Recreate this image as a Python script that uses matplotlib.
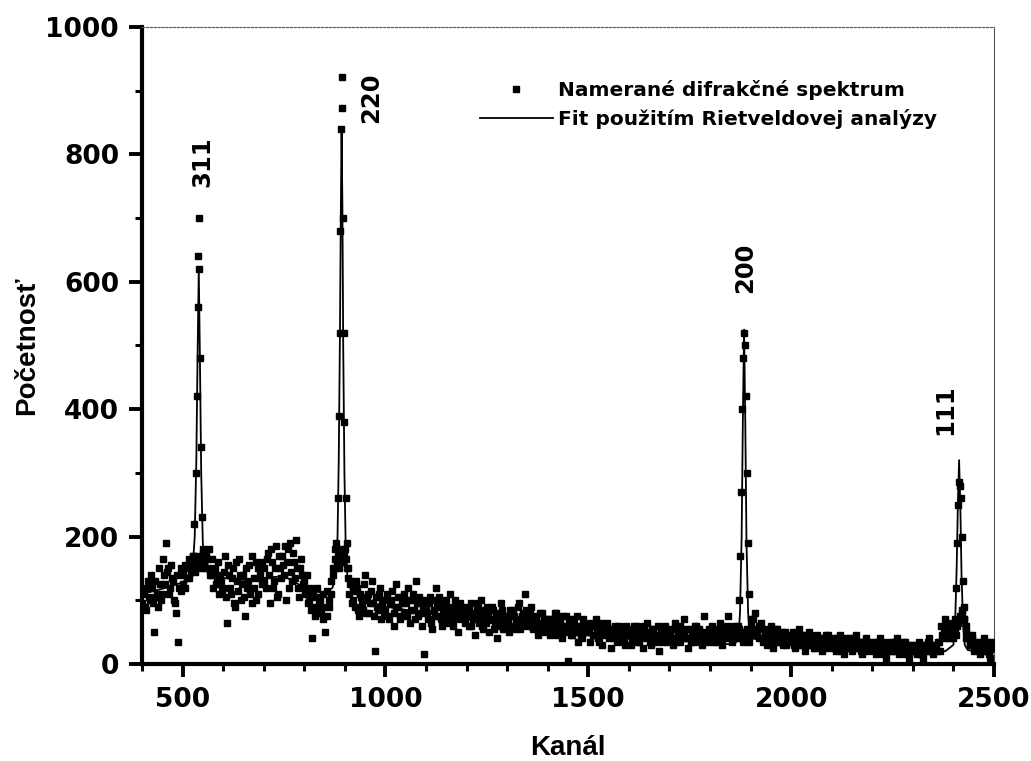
import numpy as np
import matplotlib
matplotlib.use("Agg")
import matplotlib.pyplot as plt
from matplotlib.ticker import MultipleLocator

# measured spectrum, background read every 5 channels (400 .. 2495)
bg_start = 400
bg_step = 5
bg_counts = [
    95, 110, 85, 130, 100, 120, 50, 105, 90, 125, 110, 140, 190, 150, 120, 135, 100, 80, 35, 115,      # 400
    140, 120, 150, 135, 160, 150, 145, 170, 160, 150, 175, 150, 165, 180, 140, 120, 150, 135, 110, 130,  # 500
    120, 170, 65, 140, 110, 150, 90, 130, 165, 100, 140, 75, 120, 155, 95, 135, 160, 110, 145, 125,    # 600
    150, 120, 175, 95, 160, 130, 185, 110, 150, 170, 140, 100, 180, 190, 130, 160, 195, 120, 150, 140,  # 700
    130, 110, 95, 120, 40, 90, 105, 85, 100, 70, 50, 115, 90, 130, 150, 180, 160, 150, 170, 160,      # 800
    180, 150, 110, 130, 100, 90, 120, 75, 105, 85, 140, 100, 80, 115, 95, 20, 90, 110, 70, 100,       # 900
    85, 110, 70, 100, 60, 125, 90, 75, 105, 80, 95, 120, 65, 100, 85, 130, 75, 95, 60, 15,            # 1000
    90, 70, 105, 55, 85, 120, 75, 95, 60, 80, 100, 65, 110, 85, 70, 90, 50, 95, 75, 85,               # 1100
    80, 60, 95, 70, 45, 85, 65, 100, 55, 75, 90, 50, 70, 85, 60, 40, 75, 95, 55, 70,                  # 1200
    65, 50, 75, 85, 55, 70, 95, 60, 80, 110, 75, 65, 90, 55, 70, 45, 80, 60, 50, 70,                  # 1300
    60, 45, 70, 55, 80, 50, 65, 40, 60, 75, 5, 55, 45, 70, 50, 35, 60, 40, 65, 50,                    # 1400
    50, 35, 60, 45, 70, 40, 55, 30, 50, 65, 40, 25, 55, 45, 35, 60, 40, 50, 30, 45,                   # 1500
    45, 30, 55, 40, 60, 35, 50, 25, 45, 65, 40, 30, 55, 35, 45, 20, 50, 40, 60, 35,                   # 1600
    40, 55, 30, 65, 45, 35, 50, 70, 40, 25, 55, 45, 35, 60, 40, 50, 30, 75, 45, 35,                   # 1700
    45, 60, 35, 50, 40, 65, 30, 55, 45, 75, 40, 35, 60, 50, 40, 45, 50, 45, 40, 35,                   # 1800
    60, 45, 80, 55, 40, 65, 35, 50, 30, 45, 60, 25, 40, 55, 35, 45, 30, 50, 40, 35,                   # 1900
    35, 50, 25, 40, 55, 30, 45, 20, 35, 50, 30, 40, 25, 45, 35, 20, 40, 30, 45, 25,                   # 2000
    30, 40, 20, 35, 45, 25, 15, 35, 30, 40, 20, 30, 45, 25, 35, 15, 30, 40, 20, 30,                   # 2100
    25, 35, 15, 30, 40, 20, 25, 10, 30, 35, 20, 25, 40, 15, 30, 20, 35, 25, 10, 30,                   # 2200
    20, 30, 15, 35, 25, 10, 30, 20, 40, 25, 15, 30, 20, 35, 60, 45, 70, 55, 40, 50,                   # 2300
    45, 50, 60, 70, 80, 90, 60, 40, 30, 45, 20, 35, 25, 15, 30, 40, 20, 30, 10, 35,                   # 2400
]

# second reading of the background, shifted by 2 channels (402 .. 2497)
bg_start_b = 402
bg_counts_b = [
    115, 90, 120, 105, 140, 95, 130, 110, 150, 100, 165, 125, 145, 110, 155, 130, 95, 140, 120, 150,   # 400
    125, 155, 135, 165, 145, 170, 150, 160, 155, 165, 160, 175, 150, 140, 165, 145, 125, 160, 140, 115,  # 500
    145, 105, 155, 120, 135, 95, 160, 115, 140, 125, 105, 150, 130, 110, 170, 120, 100, 150, 135, 160,  # 600
    130, 165, 140, 180, 120, 150, 105, 170, 135, 155, 185, 160, 120, 145, 175, 135, 150, 105, 165, 125,  # 700
    115, 140, 100, 85, 110, 75, 120, 95, 80, 110, 90, 75, 100, 110, 140, 165, 170, 180, 160, 175,      # 800
    165, 135, 125, 95, 115, 130, 85, 110, 95, 125, 80, 110, 95, 130, 75, 105, 85, 120, 95, 80,        # 900
    100, 75, 95, 115, 80, 90, 105, 70, 95, 110, 75, 100, 85, 110, 70, 95, 105, 80, 90, 100,           # 1000
    80, 95, 65, 100, 75, 90, 105, 70, 85, 95, 75, 90, 80, 60, 100, 75, 85, 70, 90, 65,                # 1100
    75, 90, 60, 80, 70, 95, 75, 60, 85, 65, 80, 70, 90, 55, 80, 70, 60, 85, 75, 60,                   # 1200
    70, 85, 60, 75, 65, 90, 55, 75, 65, 85, 60, 80, 70, 60, 75, 65, 55, 80, 70, 60,                   # 1300
    70, 55, 65, 80, 45, 70, 55, 75, 50, 60, 70, 45, 65, 55, 75, 50, 45, 70, 55, 60,                   # 1400
    55, 65, 45, 60, 50, 35, 65, 50, 45, 60, 55, 45, 40, 60, 50, 45, 55, 35, 60, 45,                   # 1500
    50, 40, 60, 45, 35, 55, 45, 60, 40, 50, 35, 55, 45, 40, 60, 45, 35, 55, 40, 50,                   # 1600
    45, 40, 55, 35, 50, 60, 40, 45, 55, 40, 35, 50, 60, 40, 55, 35, 45, 50, 40, 55,                   # 1700
    40, 50, 45, 35, 55, 45, 50, 40, 60, 45, 55, 40, 50, 45, 55, 40, 35, 50, 55, 45,                   # 1800
    50, 70, 55, 45, 60, 40, 55, 45, 40, 50, 35, 45, 55, 40, 35, 50, 45, 30, 40, 45,                   # 1900
    40, 30, 45, 35, 30, 45, 35, 40, 30, 45, 35, 25, 40, 35, 30, 40, 25, 45, 30, 35,                   # 2000
    35, 25, 40, 30, 20, 35, 40, 25, 35, 30, 40, 25, 30, 35, 20, 35, 25, 30, 35, 25,                   # 2100
    30, 20, 35, 25, 30, 15, 35, 25, 20, 30, 35, 20, 25, 30, 20, 35, 15, 30, 25, 20,                   # 2200
    25, 20, 30, 15, 30, 25, 20, 35, 25, 20, 30, 25, 35, 20, 45, 55, 40, 65, 50, 60,                   # 2300
    55, 45, 65, 75, 85, 70, 50, 45, 35, 40, 30, 25, 35, 30, 20, 25, 35, 15, 30, 25,                   # 2400
]

# measured points on the diffraction peaks
peak_ch = [526, 529, 532, 535, 537, 539, 540, 541, 543, 545, 548, 551, 554,
           876, 879, 882, 885, 887, 889, 891, 892, 893, 895, 897, 899, 902, 905, 908,
           1868, 1871, 1874, 1877, 1880, 1882, 1884, 1886, 1888, 1891, 1894, 1897, 1900,
           2400, 2403, 2406, 2409, 2412, 2414, 2416, 2418, 2421, 2424, 2427, 2430]
peak_counts = [170, 220, 300, 420, 560, 640, 700, 620, 480, 340, 230, 180, 160,
               150, 190, 260, 390, 520, 680, 840, 921, 873, 700, 520, 380, 260, 190, 150,
               60, 100, 170, 270, 400, 480, 520, 500, 420, 300, 190, 110, 70,
               40, 70, 120, 190, 250, 285, 280, 260, 200, 130, 70, 40]

# Rietveld fit
fit_ch = [400, 450, 500, 520, 526, 530, 534, 537, 540, 543, 546, 550, 554, 560, 600, 650,
          700, 750, 800, 850, 870, 878, 882, 885, 888, 890, 892, 894, 896, 899, 902, 906,
          915, 950, 1000, 1100, 1200, 1300, 1400, 1500, 1600, 1700, 1800, 1860, 1870, 1874,
          1878, 1881, 1884, 1887, 1890, 1894, 1898, 1905, 1950, 2000, 2100, 2200, 2300, 2380,
          2400, 2404, 2408, 2411, 2414, 2417, 2420, 2424, 2428, 2435, 2450, 2500]
fit_counts = [110, 118, 128, 140, 160, 200, 320, 480, 620, 470, 300, 190, 160, 145, 135, 132,
              135, 138, 120, 110, 120, 150, 200, 320, 520, 700, 840, 720, 500, 300, 190, 140,
              115, 100, 90, 80, 70, 60, 50, 45, 40, 37, 34, 30, 40, 80,
              200, 380, 525, 380, 190, 80, 45, 40, 35, 30, 28, 25, 22, 20,
              30, 60, 150, 250, 320, 250, 140, 60, 30, 22, 20, 18]

peak_labels = ["311", "220", "200", "111"]
label_x = [548, 964, 1886, 2379]
label_y = [788, 889, 622, 399]

bg_ch = bg_start + bg_step * np.arange(len(bg_counts))
bg_ch_b = bg_start_b + bg_step * np.arange(len(bg_counts_b))
meas_ch = np.concatenate([bg_ch, bg_ch_b, peak_ch])
meas_counts = np.concatenate([bg_counts, bg_counts_b, peak_counts])

fig = plt.figure(figsize=(10.31, 7.61), dpi=100)
ax = fig.add_axes([0.1377, 0.1275, 0.8264, 0.837])

ax.plot(fit_ch, fit_counts, color="black", lw=1.3, zorder=2,
        label="Fit použitím Rietveldovej analýzy")
ax.plot(meas_ch, meas_counts, ls="none", marker="s", ms=4.8, color="black",
        mec="black", zorder=3, label="Namerané difrakčné spektrum")

for txt, x, y in zip(peak_labels, label_x, label_y):
    ax.text(x, y, txt, rotation=90, ha="center", va="center",
            fontsize=17.5, fontweight="bold", family="DejaVu Sans")

ax.set_xlim(400, 2500)
ax.set_ylim(0, 1000)
ax.xaxis.set_major_locator(MultipleLocator(500))
ax.xaxis.set_minor_locator(MultipleLocator(100))
ax.yaxis.set_major_locator(MultipleLocator(200))
ax.yaxis.set_minor_locator(MultipleLocator(100))
ax.tick_params(which="major", direction="out", length=9.5, width=2.8, pad=7,
               labelsize=19)
ax.tick_params(which="minor", direction="out", length=5, width=2.2)
for lab in ax.get_xticklabels() + ax.get_yticklabels():
    lab.set_fontweight("bold")
    lab.set_family("DejaVu Sans")

ax.spines["left"].set_linewidth(3)
ax.spines["bottom"].set_linewidth(3)
ax.spines["top"].set_linewidth(0.8)
ax.spines["top"].set_linestyle((0, (2, 1.5)))
ax.spines["top"].set_color("#555555")
ax.spines["right"].set_linewidth(0.8)
ax.spines["right"].set_color("#555555")

ax.set_xlabel("Kanál", fontsize=20, fontweight="bold", family="Liberation Sans",
              labelpad=16)
ax.set_ylabel("Početnosť", fontsize=20, fontweight="bold", family="Liberation Sans",
              labelpad=4)

handles, labels = ax.get_legend_handles_labels()
ax.legend(handles[::-1], labels[::-1], loc="upper left",
          bbox_to_anchor=(480 / 1031, 1 - 80 / 761), bbox_transform=fig.transFigure,
          frameon=False, borderpad=0, borderaxespad=0, handlelength=3.6,
          handletextpad=0.25, labelspacing=0.45, markerscale=0.8,
          prop={"family": "DejaVu Sans", "weight": "bold", "size": 14.5})

fig.savefig("out.png", dpi=100)
